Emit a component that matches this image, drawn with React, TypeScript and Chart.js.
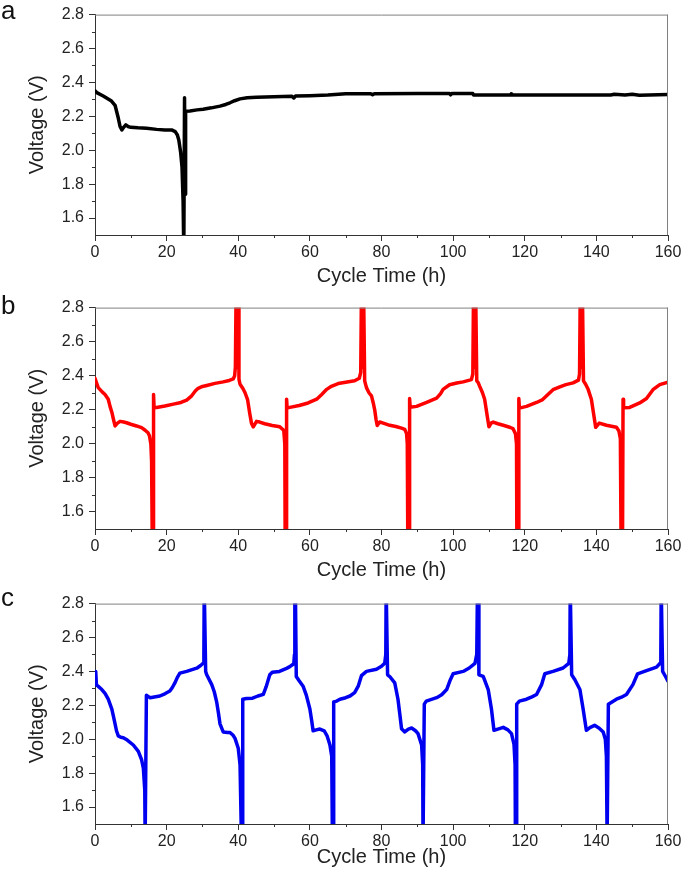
import React, { useEffect, useRef } from 'react';
import { Chart, registerables } from 'chart.js';

Chart.register(...registerables);

// ---- axis ticks ----
const xTicks = [0, 20, 40, 60, 80, 100, 120, 140, 160];
const xMinor = [10, 30, 50, 70, 90, 110, 130, 150];
const yTicks = [1.6, 1.8, 2.0, 2.2, 2.4, 2.6, 2.8];
const yMinor = [1.7, 1.9, 2.1, 2.3, 2.5, 2.7];

// ---- panel a (black) ----
const tA = [0, 0.5, 2.3, 4.6, 5.6, 6.5, 7.0, 7.5, 8.0, 8.6, 9.2, 10.0, 12.0, 14.4, 17.2, 19.5, 21.4, 22.4, 23.0, 23.4, 23.9, 24.3, 24.6, 24.8,
  25.0, 25.15, 25.3, 26.5, 28.5, 30.2, 32.5, 34.9, 36.5, 37.7, 39.0, 40.5, 42.5, 45.1, 50, 55, 55.5, 56, 60, 65, 68, 70, 77, 77.5, 78, 90,
  99, 99.3, 99.6, 105.5, 105.7, 116, 116.2, 116.4, 130, 144, 145, 148, 150, 152, 160];
const vA = [2.35, 2.34, 2.32, 2.29, 2.265, 2.19, 2.14, 2.12, 2.135, 2.15, 2.14, 2.135, 2.132, 2.13, 2.123, 2.12, 2.12, 2.11, 2.09, 2.06, 1.99, 1.90, 1.70, 1.40,
  2.31, 1.74, 2.23, 2.232, 2.238, 2.242, 2.25, 2.26, 2.27, 2.28, 2.292, 2.303, 2.31, 2.313, 2.315, 2.318, 2.308, 2.32, 2.322, 2.326, 2.33, 2.333, 2.333, 2.327, 2.333, 2.334,
  2.334, 2.327, 2.334, 2.334, 2.326, 2.326, 2.332, 2.326, 2.326, 2.326, 2.33, 2.326, 2.33, 2.324, 2.328];

// ---- panel b (red) ----
const tB = [0, 0.4, 0.9, 2.0, 2.8, 3.7, 4.2, 4.7, 5.2, 5.6, 6.2, 7.0, 8.0, 8.8, 10.0, 11.6, 13.0, 14.0, 14.8, 15.2, 15.6, 15.8, 16.0, 16.2, 16.35, 16.5,
  17.2, 19.5, 21.9, 24.0, 25.6, 27.0, 28.0, 28.8, 30.0, 31.2, 33.5, 35.8, 37.5, 38.6, 39.0, 39.2, 39.4, 39.55, 39.7, 39.85, 40.0, 40.2,
  40.5, 41.3, 41.9, 42.6, 43.2, 43.7, 44.2, 45.1, 46.0, 47.4, 49.5, 51.6, 52.7, 53.0, 53.1, 53.4, 53.5, 53.65,
  54.4, 57.0, 59.5, 61.9, 63.3, 64.7, 66.0, 67.9, 70.0, 72.5, 73.8, 74.2, 74.4, 74.55, 74.7, 74.85, 75.0, 75.3,
  75.8, 76.5, 77.2, 77.7, 78.1, 78.5, 78.8, 79.5, 80.5, 82.3, 84.0, 85.6, 86.5, 87.0, 87.2, 87.35, 87.7, 87.85, 88.0,
  89.8, 92.6, 95.4, 96.5, 97.2, 99.0, 101.0, 102.8, 105.1, 105.5, 105.7, 105.85, 106.0, 106.15, 106.3, 106.6,
  107.0, 107.4, 108.2, 108.8, 109.5, 110.0, 110.6, 111.2, 112.5, 114.0, 116.0, 116.7, 117.4, 117.7, 117.8, 118.2, 118.35, 118.5,
  120.5, 123.3, 125.0, 126.1, 127.9, 129.8, 131.5, 133.5, 135.0, 135.3, 135.5, 135.65, 135.8, 135.95, 136.1, 136.4,
  137.0, 137.7, 138.6, 139.3, 139.8, 140.8, 142.8, 145.6, 146.3, 146.7, 146.9, 147.3, 147.45, 147.6,
  149.3, 152.1, 154.0, 155.8, 157.7, 160.0];
const vB = [2.385, 2.36, 2.33, 2.305, 2.29, 2.262, 2.22, 2.186, 2.14, 2.105, 2.12, 2.132, 2.128, 2.124, 2.115, 2.105, 2.095, 2.08, 2.065, 2.048, 2.0, 1.9, 1.4, 1.4, 2.29, 2.21,
  2.214, 2.222, 2.233, 2.243, 2.257, 2.282, 2.31, 2.326, 2.337, 2.343, 2.355, 2.364, 2.372, 2.381, 2.40, 2.45, 2.9, 2.5, 2.9, 2.45, 2.9, 2.38,
  2.35, 2.325, 2.30, 2.26, 2.18, 2.12, 2.1, 2.132, 2.128, 2.118, 2.108, 2.1, 2.08, 2.0, 1.4, 1.4, 2.262, 2.21,
  2.214, 2.225, 2.24, 2.262, 2.29, 2.32, 2.338, 2.354, 2.362, 2.37, 2.385, 2.42, 2.9, 2.5, 2.9, 2.45, 2.9, 2.37,
  2.33, 2.30, 2.282, 2.24, 2.2, 2.14, 2.108, 2.128, 2.122, 2.109, 2.102, 2.092, 2.085, 2.06, 2.0, 1.4, 1.4, 2.266, 2.215,
  2.22, 2.243, 2.268, 2.295, 2.32, 2.347, 2.357, 2.364, 2.377, 2.41, 2.9, 2.5, 2.9, 2.45, 2.9, 2.37,
  2.36, 2.339, 2.30, 2.262, 2.166, 2.10, 2.122, 2.128, 2.118, 2.109, 2.096, 2.09, 2.06, 2.0, 1.4, 1.4, 2.266, 2.21,
  2.22, 2.243, 2.26, 2.282, 2.318, 2.335, 2.348, 2.358, 2.374, 2.41, 2.9, 2.5, 2.9, 2.45, 2.9, 2.37,
  2.35, 2.32, 2.262, 2.166, 2.097, 2.122, 2.109, 2.097, 2.075, 2.03, 1.4, 1.4, 2.262, 2.212,
  2.214, 2.24, 2.266, 2.318, 2.348, 2.362];

// ---- panel c (blue) ----
const tC = [0, 0.2, 0.4, 1.0, 1.9, 2.8, 3.7, 4.7, 5.2, 5.6, 6.0, 6.5, 7.2, 7.9, 9.0, 10.7, 12.1, 13.0, 13.5, 13.9, 14.0, 14.2, 14.35,
  15.0, 15.4, 18.1, 19.5, 20.9, 21.6, 22.3, 23.0, 23.7, 25.6, 28.4, 29.5, 30.2, 30.4, 30.5, 30.65, 30.9,
  31.2, 32.6, 33.3, 34.0, 34.5, 34.9, 35.8, 37.0, 37.7, 38.5, 39.1, 40.0, 40.5, 40.9, 41.1, 41.25,
  42.3, 44.0, 45.5, 47.0, 47.8, 48.8, 49.5, 51.5, 53.5, 54.4, 55.5, 55.7, 55.8, 55.95, 56.2,
  57.0, 58.1, 59.0, 60.0, 60.5, 60.9, 61.8, 62.8, 64.0, 64.8, 65.6, 66.1, 66.3, 66.5, 66.65,
  67.5, 68.4, 70.0, 71.2, 72.5, 73.5, 74.4, 75.8, 78.6, 80.0, 80.9, 81.2, 81.3, 81.45, 81.7,
  82.3, 83.7, 84.6, 85.1, 85.6, 86.5, 87.5, 88.4, 89.5, 90.2, 91.2, 91.5, 91.6, 91.8, 91.95,
  92.5, 95.4, 96.8, 98.2, 99.2, 100.0, 102.8, 104.5, 106.1, 106.6, 106.8, 106.95, 107.2,
  108.4, 109.8, 110.7, 111.4, 112.5, 114.0, 115.3, 116.3, 117.0, 117.3, 117.4, 117.6, 117.75,
  118.5, 120.5, 122.0, 123.3, 124.7, 125.6, 127.9, 130.7, 132.3, 132.6, 132.7, 132.85, 133.1,
  134.0, 135.4, 136.3, 137.2, 138.3, 139.5, 140.8, 141.9, 142.5, 142.8, 143.0, 143.2, 143.35,
  145.6, 147.0, 148.4, 150.2, 151.5, 154.0, 156.8, 157.8, 158.0, 158.1, 158.25, 158.5, 159.3, 160.0];
const vC = [2.33, 2.40, 2.32, 2.31, 2.293, 2.27, 2.236, 2.178, 2.13, 2.091, 2.05, 2.02, 2.012, 2.009, 1.995, 1.966, 1.928, 1.88, 1.83, 1.7, 1.4, 1.4, 2.259,
  2.25, 2.245, 2.255, 2.268, 2.284, 2.305, 2.332, 2.365, 2.39, 2.40, 2.419, 2.435, 2.448, 2.5, 2.9, 2.9, 2.40,
  2.38, 2.322, 2.28, 2.217, 2.15, 2.091, 2.043, 2.04, 2.039, 2.025, 2.005, 1.947, 1.85, 1.4, 1.4, 2.236,
  2.24, 2.242, 2.255, 2.265, 2.31, 2.38, 2.395, 2.40, 2.418, 2.428, 2.445, 2.5, 2.9, 2.9, 2.37,
  2.345, 2.313, 2.26, 2.178, 2.11, 2.05, 2.055, 2.06, 2.05, 2.02, 1.966, 1.9, 1.4, 1.4, 2.22,
  2.225, 2.236, 2.245, 2.255, 2.275, 2.313, 2.375, 2.40, 2.413, 2.43, 2.448, 2.5, 2.9, 2.9, 2.38,
  2.37, 2.332, 2.236, 2.15, 2.062, 2.043, 2.06, 2.066, 2.05, 2.033, 1.966, 1.85, 1.4, 1.4, 2.207,
  2.225, 2.245, 2.262, 2.293, 2.35, 2.386, 2.40, 2.42, 2.448, 2.5, 2.9, 2.9, 2.38,
  2.371, 2.293, 2.178, 2.053, 2.06, 2.07, 2.055, 2.033, 1.97, 1.85, 1.4, 1.4, 2.207,
  2.225, 2.236, 2.25, 2.264, 2.322, 2.386, 2.40, 2.42, 2.448, 2.5, 2.9, 2.9, 2.38,
  2.351, 2.293, 2.178, 2.053, 2.07, 2.082, 2.065, 2.043, 2.0, 1.9, 1.4, 1.4, 2.207,
  2.236, 2.248, 2.264, 2.322, 2.386, 2.405, 2.425, 2.448, 2.5, 2.9, 2.9, 2.40, 2.37, 2.342];

const FONT = "'Liberation Sans', Arial, sans-serif";
const TEXT = '#222222';
const AXIS = '#333333';
const CANVAS_W = 685;
const CANVAS_H = 290;

const framePlugin = {
  id: 'frame',
  afterDraw(chart: any) {
    const { ctx, chartArea, scales } = chart;
    const { left, right, top, bottom } = chartArea;
    const x = scales.x;
    const y = scales.y;
    ctx.save();
    ctx.lineWidth = 1;
    ctx.strokeStyle = '#808080';
    ctx.beginPath();
    ctx.moveTo(left, top + 0.5);
    ctx.lineTo(right, top + 0.5);
    ctx.moveTo(right - 0.5, top);
    ctx.lineTo(right - 0.5, bottom);
    ctx.stroke();
    ctx.strokeStyle = AXIS;
    ctx.beginPath();
    xMinor.forEach((v) => {
      const px = Math.round(x.getPixelForValue(v)) + 0.5;
      ctx.moveTo(px, bottom);
      ctx.lineTo(px, bottom + 3);
    });
    yMinor.forEach((v) => {
      const py = Math.round(y.getPixelForValue(v)) + 0.5;
      ctx.moveTo(left, py);
      ctx.lineTo(left - 3, py);
    });
    ctx.stroke();
    ctx.restore();
  },
};

type PanelProps = {
  top: number;
  times: number[];
  volts: number[];
  color: string;
  areaBottom: number;
  xTitlePad: number;
};

function Panel({ top, times, volts, color, areaBottom, xTitlePad }: PanelProps) {
  const ref = useRef<HTMLCanvasElement>(null);
  useEffect(() => {
    const canvas = ref.current;
    if (!canvas) return;
    const chart = new Chart(canvas, {
      type: 'line',
      data: {
        datasets: [
          {
            data: times.map((t, i) => ({ x: t, y: volts[i] })),
            borderColor: color,
            backgroundColor: color,
            borderWidth: 3.5,
            pointRadius: 0,
            tension: 0,
            clip: 0,
            borderJoinStyle: 'round',
            borderCapStyle: 'round',
          } as any,
        ],
      },
      options: {
        animation: false,
        responsive: false,
        maintainAspectRatio: false,
        events: [],
        layout: { padding: { left: 0, right: 17, top: 10, bottom: 0 } },
        plugins: { legend: { display: false }, tooltip: { enabled: false } },
        scales: {
          x: {
            type: 'linear',
            min: 0,
            max: 160,
            afterBuildTicks: (s: any) => {
              s.ticks = xTicks.map((v) => ({ value: v }));
            },
            afterFit: (s: any) => {
              s.height = CANVAS_H - areaBottom;
            },
            grid: { drawOnChartArea: false, drawTicks: true, tickLength: 6, color: AXIS, lineWidth: 1 },
            border: { display: true, color: AXIS, width: 1 },
            ticks: {
              color: TEXT,
              font: { family: FONT, size: 16 },
              padding: 2,
              maxRotation: 0,
              autoSkip: false,
              callback: (v: any) => String(v),
            },
            title: {
              display: true,
              text: 'Cycle Time (h)',
              color: TEXT,
              font: { family: FONT, size: 20 },
              padding: { top: 0, bottom: xTitlePad },
            },
          },
          y: {
            type: 'linear',
            min: 1.5,
            max: 2.8,
            afterBuildTicks: (s: any) => {
              s.ticks = yTicks.map((v) => ({ value: v }));
            },
            afterFit: (s: any) => {
              s.width = 95;
            },
            grid: { drawOnChartArea: false, drawTicks: true, tickLength: 6, color: AXIS, lineWidth: 1 },
            border: { display: true, color: AXIS, width: 1 },
            ticks: {
              color: TEXT,
              font: { family: FONT, size: 16 },
              padding: 5,
              callback: (v: any) => Number(v).toFixed(1),
            },
            title: {
              display: true,
              text: 'Voltage (V)',
              color: TEXT,
              font: { family: FONT, size: 20 },
              padding: { top: 25, bottom: 0 },
            },
          },
        },
      } as any,
      plugins: [framePlugin],
    });
    return () => chart.destroy();
  }, []);
  return (
    <canvas
      ref={ref}
      width={CANVAS_W}
      height={CANVAS_H}
      style={{ position: 'absolute', left: 0, top, width: CANVAS_W, height: CANVAS_H }}
    />
  );
}

const letterStyle = (top: number): React.CSSProperties => ({
  position: 'absolute',
  left: 1,
  top,
  fontFamily: FONT,
  fontSize: 26,
  lineHeight: '26px',
  color: '#111',
});

export default function App() {
  return (
    <div style={{ position: 'absolute', left: 0, top: 0, width: 685, height: 879, background: '#fff', overflow: 'hidden' }}>
      <Panel top={0} times={tA} volts={vA} color="#000000" areaBottom={235} xTitlePad={2} />
      <Panel top={293} times={tB} volts={vB} color="#ff0000" areaBottom={236} xTitlePad={1} />
      <Panel top={589} times={tC} volts={vC} color="#0000f0" areaBottom={235} xTitlePad={10} />
      <div style={letterStyle(-3)}>a</div>
      <div style={letterStyle(292)}>b</div>
      <div style={letterStyle(584)}>c</div>
    </div>
  );
}
